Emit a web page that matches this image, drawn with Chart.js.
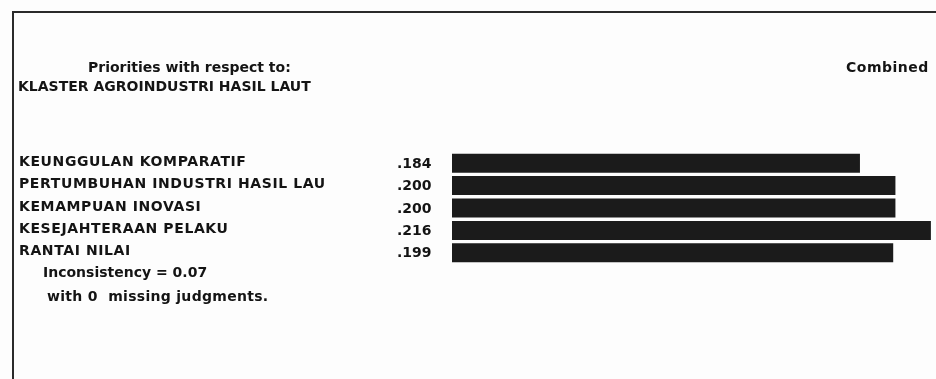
<!DOCTYPE html>
<html>
<head>
<meta charset="utf-8">
<script src="https://cdn.jsdelivr.net/npm/chart.js@4/dist/chart.umd.min.js"></script>
<style>
    body { margin: 0; background: #ffffff; }
    #wrap { position: relative; width: 936px; height: 379px; overflow: hidden; background: #fdfdfd; }
    #frame { position: absolute; left: 12px; top: 11px; width: 940px; height: 400px;
             border-left: 2px solid #2a2a2a; border-top: 2px solid #2a2a2a; }
    canvas { position: absolute; left: 0; top: 0; }
    .t { position: absolute; font-family: "DejaVu Sans", sans-serif; font-weight: bold;
         font-size: 14px; line-height: 16px; color: #141414; white-space: nowrap; }
    .lbl { letter-spacing: 0.6px; }
</style>
</head>
<body>
<div id="wrap">
    <div id="frame"></div>
    <canvas id="chart" width="936" height="379"></canvas>
    <div class="t" style="left:88px; top:59px;">Priorities with respect to:</div>
    <div class="t" style="left:18px; top:78px;">KLASTER AGROINDUSTRI HASIL LAUT</div>
    <div class="t" style="left:846px; top:59px; letter-spacing:0.5px;">Combined</div>
    <div id="rows"></div>
    <div class="t" style="left:43px; top:264px;">Inconsistency = 0.07</div>
    <div class="t" style="left:47px; top:288px; letter-spacing:0.3px;">with 0&nbsp; missing judgments.</div>
</div>
<script>
    const categories = [
        "KEUNGGULAN KOMPARATIF",
        "PERTUMBUHAN INDUSTRI HASIL LAU",
        "KEMAMPUAN INOVASI",
        "KESEJAHTERAAN PELAKU",
        "RANTAI NILAI"
    ];
    const priorities = [0.184, 0.200, 0.200, 0.216, 0.199];
    const valueLabels = [".184", ".200", ".200", ".216", ".199"];

    // text rows left of the bars
    const rows = document.getElementById("rows");
    categories.forEach(function (name, i) {
        const top = 153 + i * 22.3;
        const label = document.createElement("div");
        label.className = "t lbl";
        label.style.left = "19px";
        label.style.top = top + "px";
        label.textContent = name;
        rows.appendChild(label);

        const val = document.createElement("div");
        val.className = "t";
        val.style.left = "397px";
        val.style.top = (top + 2) + "px";
        val.textContent = valueLabels[i];
        rows.appendChild(val);
    });

    const ctx = document.getElementById("chart").getContext("2d");
    new Chart(ctx, {
        type: 'bar',
        data: {
            labels: categories,
            datasets: [
                {
                    label: 'Combined',
                    data: priorities,
                    backgroundColor: '#1b1b1b',
                    barPercentage: 0.85,
                    categoryPercentage: 1.0
                }
            ]
        },
        options: {
            indexAxis: 'y',
            responsive: false,
            animation: false,
            devicePixelRatio: 1,
            layout: { padding: { left: 452, right: 0, top: 152, bottom: 115 } },
            plugins: { legend: { display: false }, tooltip: { enabled: false } },
            scales: {
                x: { display: false, min: 0, max: 0.2183 },
                y: { display: false }
            }
        }
    });
</script>
</body>
</html>
